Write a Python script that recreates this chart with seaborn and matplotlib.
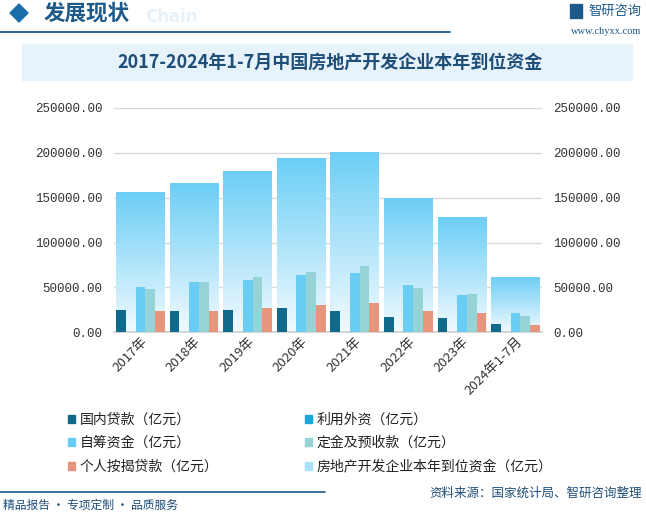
"""2017-2024年1-7月中国房地产开发企业本年到位资金 — grouped bars over a total bar."""
import matplotlib
matplotlib.use('Agg')
import matplotlib.pyplot as plt
import numpy as np
import pandas as pd
import seaborn as sns
from matplotlib.patches import Patch, Polygon, Rectangle


years = ['2017年', '2018年', '2019年', '2020年', '2021年', '2022年',
         '2023年', '2024年1-7月']
domestic_loans = [24800, 23700, 24800, 27000, 23700, 17000, 15900, 9200]
foreign_capital = [170, 110, 180, 190, 110, 80, 50, 20]
self_raised = [50300, 55900, 58100, 63700, 65900, 52600, 41400, 21400]
deposits = [48100, 55900, 61400, 67000, 73700, 49200, 42600, 18100]
mortgages = [23700, 23700, 27000, 30300, 32600, 23700, 21400, 8100]
total_funds = [155900, 165900, 179200, 193700, 201400, 149600, 128100, 61400]

series_names = ['国内贷款（亿元）', '利用外资（亿元）', '自筹资金（亿元）',
                '定金及预收款（亿元）', '个人按揭贷款（亿元）']
total_name = '房地产开发企业本年到位资金（亿元）'
y_ticks = [0, 50000, 100000, 150000, 200000, 250000]

series_colors = ['#0f6a8b', '#1ba4d8', '#69cdf5', '#96d3d7', '#e8957e']
DARK_BLUE = '#1d5a8a'
CJK = ['Noto Sans CJK SC', 'DejaVu Sans']
W, H = 646, 514

sns.set_theme(style='white')
plt.rcParams['font.family'] = CJK

df = pd.DataFrame({
    'year': np.repeat(years, len(series_names)),
    'series': series_names * len(years),
    'value': np.ravel(np.column_stack([domestic_loans, foreign_capital,
                                       self_raised, deposits, mortgages])),
})

fig = plt.figure(figsize=(W / 100, H / 100), dpi=100)
ax = fig.add_axes([0.176, 0.3535, 0.6635, 0.4365])

# total funds drawn first as a wide bar behind the groups
sns.barplot(x=years, y=total_funds, color='#6ccef5', width=0.91,
            ax=ax, zorder=1, linewidth=0)
big_bars = list(ax.patches)
sns.barplot(data=df, x='year', y='value', hue='series',
            hue_order=series_names, palette=series_colors, width=0.91,
            gap=0, ax=ax, legend=False, zorder=3, saturation=1, linewidth=0)

# vertical gradient in the total bars: light blue top -> near white bottom
grad = np.linspace(1, 0, 256).reshape(-1, 1)
cmap = matplotlib.colors.LinearSegmentedColormap.from_list(
    'fade', ['#f2faff', '#6ccef5'])
for p in big_bars:
    x0, y0 = p.get_x(), p.get_y()
    w, h = p.get_width(), p.get_height()
    p.set_facecolor('none')
    im = ax.imshow(grad, cmap=cmap, aspect='auto', zorder=1,
                   extent=(x0, x0 + w, y0, y0 + h), origin='upper')
    im.set_clip_path(p)
ax.set_xlim(-0.5, len(years) - 0.5)
ax.set_ylim(0, 250000)

ax.set_yticks(y_ticks)
ax.set_yticklabels([f'{v:.2f}' for v in y_ticks],
                   family='Liberation Mono', fontsize=9, color='#333333')
ax.tick_params(axis='y', length=0, pad=8, labelleft=True, labelright=True)
ax.tick_params(axis='x', length=0, pad=2)
ax.set_xticks(range(len(years)))
ax.set_xticklabels(years, rotation=45, ha='right', rotation_mode='anchor',
                   fontsize=9.5, color='#333333')
ax.grid(axis='y', color='#d9d9d9', lw=1, zorder=0)
ax.set_axisbelow(True)
for side in ['top', 'left', 'right']:
    ax.spines[side].set_visible(False)
ax.spines['bottom'].set_color('#d0d0d0')
ax.set_xlabel('')
ax.set_ylabel('')

# legend, two columns placed by hand
handles = [Patch(color=c) for c in series_colors] + [Patch(color='#a9e2fa')]
labels = series_names + [total_name]
for idx, xpos in [([0, 2, 4], 0.096), ([1, 3, 5], 0.463)]:
    fig.legend([handles[i] for i in idx], [labels[i] for i in idx],
               loc='upper left', bbox_to_anchor=(xpos, 0.208),
               frameon=False, fontsize=10, handlelength=0.5,
               handleheight=0.5, handletextpad=0.35, labelspacing=0.68,
               borderaxespad=0, labelcolor='#222222')

# header
fig.patches.append(Polygon([[10, H - 13], [19, H - 4], [28, H - 13],
                            [19, H - 22]],
                           closed=True, color='#1b6fa8',
                           transform=None, figure=fig))
fig.text(145 / W, 1 - 17 / H, 'Chain', fontsize=12, fontweight='bold',
         color='#e6f1f9', family='DejaVu Sans', va='center')
fig.text(44 / W, 1 - 13 / H, '发展现状', fontsize=15.5, color=DARK_BLUE,
         va='center', fontweight='bold')
fig.add_artist(plt.Line2D([0, 450 / W], [1 - 32 / H] * 2,
                          color=DARK_BLUE, lw=1.3))
fig.patches.append(Rectangle((570, H - 18), 12, 14, color='#1d5a8a',
                             transform=None, figure=fig))
fig.text(588 / W, 1 - 11 / H, '智研咨询', fontsize=9.5, color=DARK_BLUE,
         va='center')
fig.text(641 / W, 1 - 31 / H, 'www.chyxx.com', fontsize=7.5,
         color=DARK_BLUE, va='center', ha='right', family='Liberation Serif')

# title band
fig.patches.append(Rectangle(
    (22 / W, 1 - 80 / H), 610 / W, 36 / H,
    transform=fig.transFigure, color='#e6f3fb', zorder=0))
fig.text(330 / W, 1 - 62 / H,
         '2017-2024年1-7月中国房地产开发企业本年到位资金',
         fontsize=13, fontweight='bold', color='#1f4e79',
         ha='center', va='center')

# footer
fig.add_artist(plt.Line2D([0, 325 / W], [1 - 492 / H] * 2,
                          color=DARK_BLUE, lw=1.2))
fig.text(3 / W, 1 - 505 / H, '精品报告 · 专项定制 · 品质服务',
         fontsize=8.5, color='#1f4e79', va='center')
fig.text(642 / W, 1 - 493 / H, '资料来源：国家统计局、智研咨询整理',
         fontsize=9, color='#1f4e79', va='center', ha='right')

fig.savefig('out.png', dpi=100)
